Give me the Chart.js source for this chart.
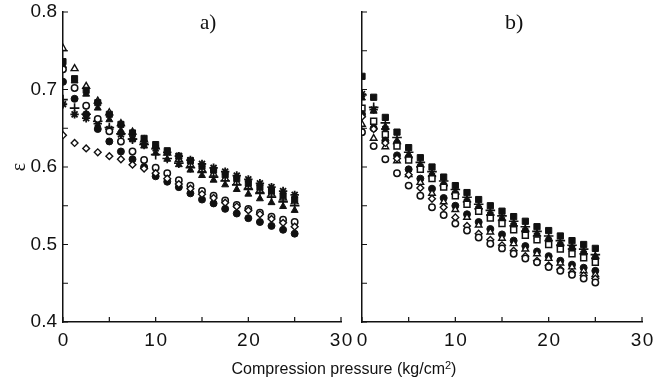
<!DOCTYPE html>
<html>
<head>
<meta charset="utf-8">
<script src="https://cdn.jsdelivr.net/npm/chart.js@4/dist/chart.umd.min.js"></script>
<style>
  html, body { margin: 0; padding: 0; background: #fff; }
  #wrap { position: relative; width: 666px; height: 387px; overflow: hidden; background: #fff; }
  canvas { position: absolute; top: 0; }
  #ca { left: 0; }
  #cb { left: 340px; }
  .lbl { position: absolute; color: #111; white-space: nowrap; }
  #panelA { left: 200px; top: 10px; font: 21px "Liberation Serif", serif; }
  #panelB { left: 505px; top: 9px; font: 22px "Liberation Serif", serif; }
  #xtitle { left: 0; width: 688px; text-align: center; top: 360px; font: 16px "Liberation Sans", Arial, sans-serif; }
  #xtitle sup { font-size: 11px; vertical-align: 5px; line-height: 0; }
</style>
</head>
<body>
<div id="wrap">
  <canvas id="ca" width="362" height="387"></canvas>
  <canvas id="cb" width="326" height="387"></canvas>
  <div class="lbl" id="panelA">a)</div>
  <div class="lbl" id="panelB">b)</div>
  <div class="lbl" id="xtitle">Compression pressure (kg/cm<sup>2</sup>)</div>
</div>
<script>
// ---- data ----
const X_VALUES = [0, 1.25, 2.5, 3.75, 5, 6.25, 7.5, 8.75, 10, 11.25, 12.5, 13.75, 15, 16.25, 17.5, 18.75, 20, 21.25, 22.5, 23.75, 25];

// panel a
const A_TRI_OPEN    = [0.753,0.727,0.704,0.685,0.670,0.656,0.645,0.635,0.626,0.618,0.610,0.603,0.597,0.591,0.585,0.580,0.575,0.570,0.565,0.560,0.555];
const A_SQ_FILLED   = [0.736,0.714,0.699,0.683,0.668,0.655,0.644,0.637,0.629,0.621,0.614,0.608,0.601,0.596,0.590,0.585,0.579,0.574,0.569,0.563,0.558];
const A_TRI_FILLED  = [0.731,0.711,0.694,0.676,0.661,0.647,0.636,0.627,0.618,0.610,0.603,0.596,0.589,0.583,0.577,0.571,0.565,0.559,0.554,0.549,0.544];
const A_PLUS        = [0.687,0.676,0.668,0.659,0.651,0.643,0.636,0.629,0.616,0.611,0.605,0.599,0.593,0.587,0.582,0.577,0.571,0.566,0.561,0.555,0.550];
const A_STAR        = [0.681,0.668,0.663,0.656,0.649,0.642,0.636,0.630,0.624,0.619,0.614,0.609,0.604,0.599,0.594,0.589,0.584,0.579,0.574,0.569,0.564];
const A_CIRC_OPEN   = [0.726,0.702,0.679,0.662,0.646,0.633,0.620,0.609,0.599,0.592,0.583,0.576,0.569,0.563,0.557,0.551,0.546,0.541,0.536,0.532,0.529];
const A_DIAMOND     = [0.641,0.631,0.624,0.619,0.614,0.610,0.603,0.598,0.592,0.585,0.578,0.572,0.565,0.560,0.554,0.549,0.544,0.539,0.533,0.528,0.523];
const A_CIRC_FILLED = [0.710,0.688,0.668,0.649,0.633,0.620,0.610,0.600,0.588,0.581,0.574,0.566,0.558,0.553,0.546,0.540,0.534,0.529,0.524,0.519,0.514];

// panel b
const B_SQ_FILLED   = [0.717,0.690,0.664,0.645,0.625,0.612,0.600,0.587,0.576,0.567,0.558,0.550,0.543,0.536,0.530,0.523,0.518,0.511,0.505,0.500,0.495];
const B_PLUS        = [0.693,0.677,0.657,0.638,0.619,0.606,0.594,0.582,0.571,0.561,0.552,0.544,0.537,0.530,0.523,0.517,0.511,0.505,0.499,0.494,0.487];
const B_TRI_FILLED  = [0.689,0.672,0.652,0.634,0.616,0.603,0.591,0.579,0.568,0.558,0.549,0.541,0.534,0.527,0.520,0.514,0.508,0.502,0.497,0.491,0.485];
const B_STAR        = [0.694,0.674,0.649,0.630,0.612,0.600,0.588,0.576,0.565,0.555,0.546,0.538,0.531,0.524,0.517,0.511,0.505,0.499,0.494,0.488,0.482];
const B_SQ_OPEN     = [0.676,0.659,0.642,0.627,0.609,0.597,0.585,0.574,0.563,0.552,0.543,0.534,0.527,0.519,0.512,0.506,0.500,0.494,0.488,0.483,0.477];
const B_CIRC_FILLED = [0.668,0.650,0.634,0.615,0.597,0.585,0.572,0.560,0.550,0.539,0.529,0.520,0.513,0.505,0.498,0.491,0.485,0.479,0.474,0.470,0.466];
const B_TRI_OPEN    = [0.655,0.637,0.626,0.608,0.590,0.580,0.566,0.555,0.545,0.535,0.525,0.516,0.508,0.501,0.494,0.488,0.482,0.476,0.471,0.466,0.461];
const B_DIAMOND     = [0.665,0.649,0.631,0.611,0.590,0.573,0.559,0.548,0.535,0.524,0.514,0.506,0.499,0.492,0.485,0.479,0.473,0.468,0.464,0.460,0.456];
const B_CIRC_OPEN   = [0.645,0.627,0.610,0.592,0.576,0.563,0.548,0.538,0.527,0.518,0.509,0.501,0.495,0.488,0.482,0.477,0.471,0.466,0.461,0.456,0.451];

// ticks
const X_TICK_LABELS = {0: '0', 10: '1\u200A0', 20: '2\u200A0', 30: '3\u200A0'};
const Y_TICK_LABELS = {0.4: '0.4', 0.5: '0.5', 0.6: '0.6', 0.7: '0.7', 0.8: '0.8'};
const X_TICK_MARKS = [0, 5, 10, 15, 20, 25, 30];
const Y_TICK_MARKS = [0.4, 0.45, 0.5, 0.55, 0.6, 0.65, 0.7, 0.75, 0.8];

// ---- helpers ----
const INK = '#111';
const pts = arr => X_VALUES.map((x, i) => ({x: x, y: arr[i]}));
function ds(arr, style, filled, r, bw) {
  return {
    data: pts(arr),
    pointStyle: style,
    pointRadius: r,
    pointHoverRadius: r,
    pointBorderWidth: bw || 1.2,
    pointBorderColor: INK,
    pointBackgroundColor: filled ? INK : '#fff',
    borderColor: INK,
    backgroundColor: filled ? INK : '#fff',
    showLine: false
  };
}

const innerTicks = {
  id: 'innerTicks',
  afterDraw(chart) {
    const {ctx, chartArea, scales} = chart;
    ctx.save();
    ctx.strokeStyle = INK;
    ctx.lineWidth = 1.2;
    ctx.beginPath();
    X_TICK_MARKS.forEach(v => {
      const px = scales.x.getPixelForValue(v);
      ctx.moveTo(px, chartArea.bottom);
      ctx.lineTo(px, chartArea.bottom - 5);
    });
    Y_TICK_MARKS.forEach(v => {
      const py = scales.y.getPixelForValue(v);
      ctx.moveTo(chartArea.left, py);
      ctx.lineTo(chartArea.left + 5, py);
    });
    ctx.stroke();
    ctx.restore();
  }
};

function makeOptions(yWidth, showYLabels, padRight) {
  return {
    responsive: false,
    animation: false,
    events: [],
    layout: {padding: {left: 0, right: padRight, top: 12, bottom: 0}},
    plugins: {legend: {display: false}, tooltip: {enabled: false}},
    scales: {
      x: {
        type: 'linear', min: 0, max: 30,
        grid: {display: false, drawTicks: false},
        border: {display: true, color: INK, width: 1.5},
        ticks: {
          stepSize: 10, padding: 7, color: INK, maxRotation: 0,
          font: {family: '"Liberation Sans", Arial, sans-serif', size: 19},
          callback: v => (X_TICK_LABELS[v] !== undefined ? X_TICK_LABELS[v] : '')
        },
        afterFit: s => { s.height = 65; s.paddingLeft = 0; s.paddingRight = 0; }
      },
      y: {
        type: 'linear', min: 0.4, max: 0.8,
        grid: {display: false, drawTicks: false},
        border: {display: true, color: INK, width: 1.5},
        title: {
          display: showYLabels, text: 'ε', color: INK,
          font: {family: '"Liberation Serif", serif', size: 20},
          padding: {top: 8, bottom: 0}
        },
        ticks: {
          stepSize: 0.1, padding: 6, color: INK,
          font: {family: '"Liberation Sans", Arial, sans-serif', size: 19},
          callback: v => {
            if (!showYLabels) return '';
            const k = Math.round(v * 10) / 10;
            return Y_TICK_LABELS[k] !== undefined ? Y_TICK_LABELS[k] : '';
          }
        },
        afterFit: s => { s.width = yWidth; s.paddingTop = 0; s.paddingBottom = 0; }
      }
    }
  };
}

new Chart(document.getElementById('ca'), {
  type: 'scatter',
  data: {datasets: [
    ds(A_DIAMOND, 'rectRot', false, 3.4, 1.4),
    ds(A_CIRC_OPEN, 'circle', false, 3.2, 1.5),
    ds(A_CIRC_FILLED, 'circle', true, 3.5, 1),
    ds(A_STAR, 'star', false, 4.2, 1.8),
    ds(A_PLUS, 'cross', false, 4.8, 1.6),
    ds(A_SQ_FILLED, 'rect', true, 4.3, 1),
    ds(A_TRI_FILLED, 'triangle', true, 4, 1),
    ds(A_TRI_OPEN, 'triangle', false, 4, 1.4)
  ]},
  options: makeOptions(63, true, 21),
  plugins: [innerTicks]
});

new Chart(document.getElementById('cb'), {
  type: 'scatter',
  data: {datasets: [
    ds(B_CIRC_OPEN, 'circle', false, 3.2, 1.5),
    ds(B_DIAMOND, 'rectRot', false, 3.4, 1.4),
    ds(B_TRI_OPEN, 'triangle', false, 3.8, 1.4),
    ds(B_CIRC_FILLED, 'circle', true, 3.5, 1),
    ds(B_SQ_OPEN, 'rect', false, 4.2, 1.5),
    ds(B_STAR, 'star', false, 4.2, 1.7),
    ds(B_TRI_FILLED, 'triangle', true, 4, 1),
    ds(B_PLUS, 'cross', false, 4.8, 1.6),
    ds(B_SQ_FILLED, 'rect', true, 4.4, 1)
  ]},
  options: makeOptions(22, false, 24),
  plugins: [innerTicks]
});
</script>
</body>
</html>
